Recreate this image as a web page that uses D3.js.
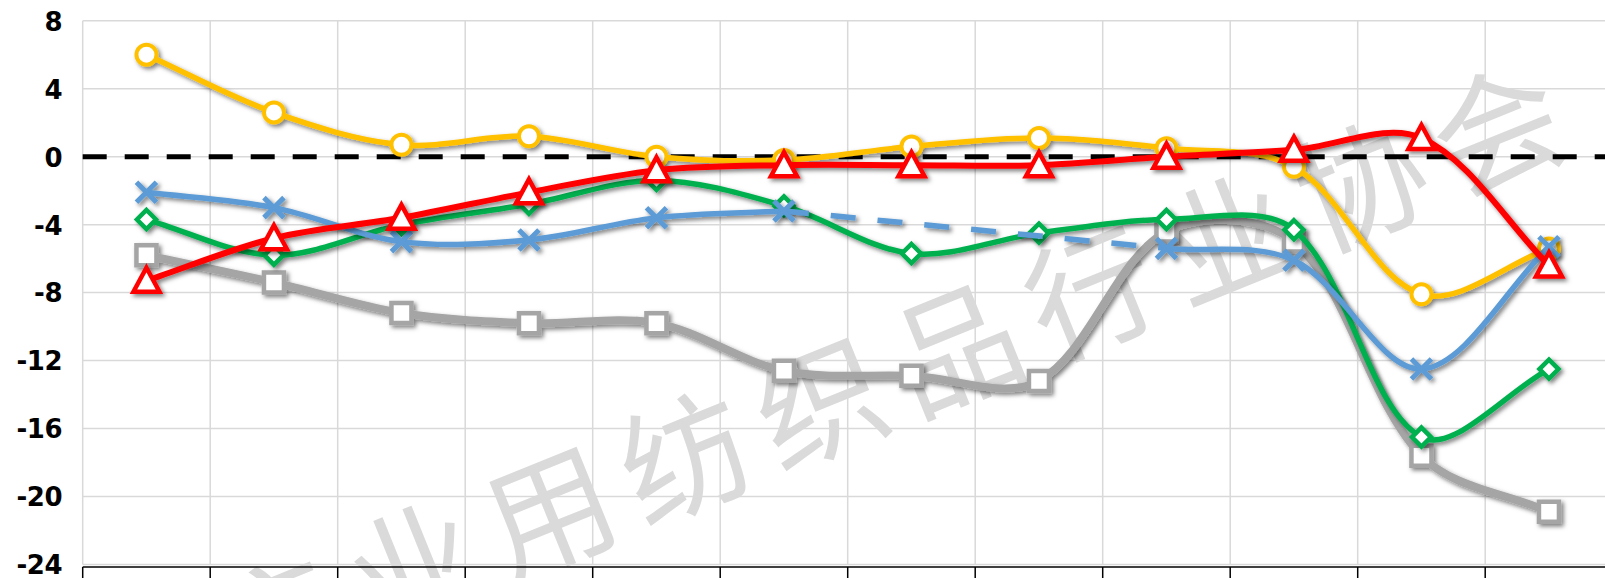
<!DOCTYPE html>
<html>
<head>
<meta charset="utf-8">
<script src="https://cdn.jsdelivr.net/npm/d3@7"></script>
<style>
  body { margin: 0; background: #fff; }
  svg { display: block; }
</style>
</head>
<body>
<div id="chart"></div>
<script>
// twelve periods, labels are cut off in the picture
var categories = ["1", "2", "3", "4", "5", "6", "7", "8", "9", "10", "11", "12"];
var yTicks = [8, 4, 0, -4, -8, -12, -16, -20, -24];

var yellowValues = [6.0, 2.6, 0.7, 1.2, 0.0, -0.2, 0.6, 1.1, 0.5, -0.6, -8.1, -5.4];
var redValues = [-7.3, -4.8, -3.6, -2.1, -0.8, -0.5, -0.5, -0.5, 0.0, 0.4, 1.1, -6.4];
var greenValues = [-3.7, -5.8, -4.0, -2.8, -1.4, -2.9, -5.7, -4.5, -3.7, -4.3, -16.5, -12.5];
var blueValues = [-2.1, -3.0, -5.0, -4.9, -3.6, -3.2, null, null, -5.4, -6.1, -12.5, -5.3];
var grayValues = [-5.8, -7.4, -9.2, -9.8, -9.8, -12.6, -12.9, -13.2, -4.4, -5.0, -17.6, -20.9];

var watermark = "产业用纺织品行业协会";

var width = 1605, height = 578;
var plotLeft = 82.7, plotTop = 20.7, plotBottom = 564.5;

var svg = d3.select("#chart")
    .append("svg")
    .attr("width", width)
    .attr("height", height);

// drop shadow like the excel series shadow
var defs = svg.append("defs");
defs.append("filter")
    .attr("id", "shadow")
    .attr("x", "-20%").attr("y", "-20%")
    .attr("width", "140%").attr("height", "140%")
    .append("feDropShadow")
    .attr("dx", 2.5).attr("dy", 2.5)
    .attr("stdDeviation", 2.2)
    .attr("flood-color", "#000")
    .attr("flood-opacity", 0.5);

var x = d3.scaleBand()
    .domain(categories)
    .range([plotLeft, plotLeft + 127.5 * categories.length]);

var y = d3.scaleLinear()
    .domain([-24, 8])
    .range([plotBottom, plotTop]);

// gridlines
svg.append("g").selectAll("line")
    .data(yTicks)
    .enter().append("line")
    .attr("x1", plotLeft).attr("x2", width)
    .attr("y1", function(d) { return y(d); })
    .attr("y2", function(d) { return y(d); })
    .attr("stroke", "#d9d9d9")
    .attr("stroke-width", 1.5);

svg.append("g").selectAll("line")
    .data(categories.concat(["end"]))
    .enter().append("line")
    .attr("x1", function(d, i) { return plotLeft + i * x.step(); })
    .attr("x2", function(d, i) { return plotLeft + i * x.step(); })
    .attr("y1", plotTop).attr("y2", plotBottom)
    .attr("stroke", "#d9d9d9")
    .attr("stroke-width", 1.5);

// watermark
svg.append("text")
    .attr("transform", "translate(897,374) rotate(-22)")
    .attr("text-anchor", "middle")
    .attr("dy", "0.36em")
    .style("font-family", "'Noto Sans CJK SC'")
    .style("font-size", "128px")
    .style("font-weight", 400)
    .style("letter-spacing", "18px")
    .attr("fill", "#dadada")
    .text(watermark);

// x axis line with ticks on category boundaries
var axisY = plotBottom + 2.5;
svg.append("line")
    .attr("x1", plotLeft).attr("x2", width)
    .attr("y1", axisY).attr("y2", axisY)
    .attr("stroke", "#000")
    .attr("stroke-width", 1.5);

svg.append("g").selectAll("line")
    .data(categories.concat(["end"]))
    .enter().append("line")
    .attr("x1", function(d, i) { return plotLeft + i * x.step(); })
    .attr("x2", function(d, i) { return plotLeft + i * x.step(); })
    .attr("y1", axisY).attr("y2", axisY + 16)
    .attr("stroke", "#000")
    .attr("stroke-width", 1.5);

// y labels
svg.append("g").selectAll("text")
    .data(yTicks)
    .enter().append("text")
    .attr("x", 62)
    .attr("y", function(d) { return y(d); })
    .attr("dy", "0.38em")
    .attr("text-anchor", "end")
    .style("font-family", "'DejaVu Sans'")
    .style("font-weight", "bold")
    .style("font-size", "26px")
    .style("letter-spacing", "-0.5px")
    .text(function(d) { return d; });

// zero reference line
svg.append("line")
    .attr("x1", plotLeft).attr("x2", width)
    .attr("y1", y(0)).attr("y2", y(0))
    .attr("stroke", "#000")
    .attr("stroke-width", 5)
    .attr("stroke-dasharray", "24,18");

var cx = function(i) { return x(categories[i]) + x.bandwidth() / 2; };

// excel style smoothing: tangent from neighbours, weighted by segment length
function smoothPath(pts) {
    var p = d3.path();
    var dist = function(a, b) { return Math.hypot(b[0] - a[0], b[1] - a[1]); };
    var ctrl = function(i) {
        var prev = pts[Math.max(i - 1, 0)], next = pts[Math.min(i + 1, pts.length - 1)];
        var dm = i > 0 ? dist(pts[i - 1], pts[i]) : 0;
        var dp = i < pts.length - 1 ? dist(pts[i], pts[i + 1]) : 0;
        var tx = next[0] - prev[0], ty = next[1] - prev[1];
        var sum = (dm + dp) || 1;
        return {
            inC: [pts[i][0] - tx * dm / sum / 3, pts[i][1] - ty * dm / sum / 3],
            outC: [pts[i][0] + tx * dp / sum / 3, pts[i][1] + ty * dp / sum / 3]
        };
    };
    p.moveTo(pts[0][0], pts[0][1]);
    for (var i = 0; i < pts.length - 1; i++) {
        var a = ctrl(i), b = ctrl(i + 1);
        p.bezierCurveTo(a.outC[0], a.outC[1], b.inC[0], b.inC[1], pts[i + 1][0], pts[i + 1][1]);
    }
    return p.toString();
}

// split a series into runs of defined values
function runs(values) {
    var out = [], cur = [];
    values.forEach(function(v, i) {
        if (v == null) {
            if (cur.length) out.push(cur);
            cur = [];
        } else {
            cur.push([cx(i), y(v)]);
        }
    });
    if (cur.length) out.push(cur);
    return out;
}

var series = [
    { name: "gray", values: grayValues, color: "#A5A5A5", width: 8, marker: "square" },
    { name: "green", values: greenValues, color: "#00B050", width: 5.5, marker: "diamond" },
    { name: "yellow", values: yellowValues, color: "#FFC000", width: 5.5, marker: "circle" },
    { name: "blue", values: blueValues, color: "#5B9BD5", width: 5.5, marker: "cross" },
    { name: "red", values: redValues, color: "#FF0000", width: 6, marker: "triangle" }
];

var markerPath = {
    square: "M-10,-10H10V10H-10Z",
    diamond: "M0,-9.5L9.5,0L0,9.5L-9.5,0Z",
    triangle: "M0,-13L13,11H-13Z",
    cross: "M-10,-10L10,10M10,-10L-10,10"
};

series.forEach(function(s) {
    var g = svg.append("g")
        .attr("class", s.name)
        .attr("filter", "url(#shadow)");

    g.selectAll(".line")
        .data(runs(s.values))
        .enter().append("path")
        .attr("class", "line")
        .attr("d", function(d) { return smoothPath(d); })
        .attr("fill", "none")
        .attr("stroke", s.color)
        .attr("stroke-width", s.width)
        .attr("stroke-linejoin", "round");

    // dashed link across missing values
    for (var i = 0; i < s.values.length; i++) {
        if (s.values[i] == null && i > 0 && s.values[i - 1] != null) {
            var j = i;
            while (j < s.values.length && s.values[j] == null) j++;
            if (j < s.values.length) {
                g.append("line")
                    .attr("x1", cx(i - 1)).attr("y1", y(s.values[i - 1]))
                    .attr("x2", cx(j)).attr("y2", y(s.values[j]))
                    .attr("stroke", s.color)
                    .attr("stroke-width", s.width)
                    .attr("stroke-dasharray", "25,22");
            }
        }
    }

    var pts = s.values.map(function(v, i) { return { v: v, i: i }; })
        .filter(function(d) { return d.v != null; });

    if (s.marker == "circle") {
        g.selectAll("circle")
            .data(pts)
            .enter().append("circle")
            .attr("cx", function(d) { return cx(d.i); })
            .attr("cy", function(d) { return y(d.v); })
            .attr("r", 10)
            .attr("fill", "#fff")
            .attr("stroke", s.color)
            .attr("stroke-width", 4);
    } else {
        g.selectAll(".marker")
            .data(pts)
            .enter().append("path")
            .attr("class", "marker")
            .attr("transform", function(d) { return "translate(" + cx(d.i) + "," + y(d.v) + ")"; })
            .attr("d", markerPath[s.marker])
            .attr("fill", s.marker == "cross" ? "none" : "#fff")
            .attr("stroke", s.color)
            .attr("stroke-width", s.marker == "cross" ? 5 : 4.5)
            .attr("stroke-linejoin", "miter");
    }
});
</script>
</body>
</html>
